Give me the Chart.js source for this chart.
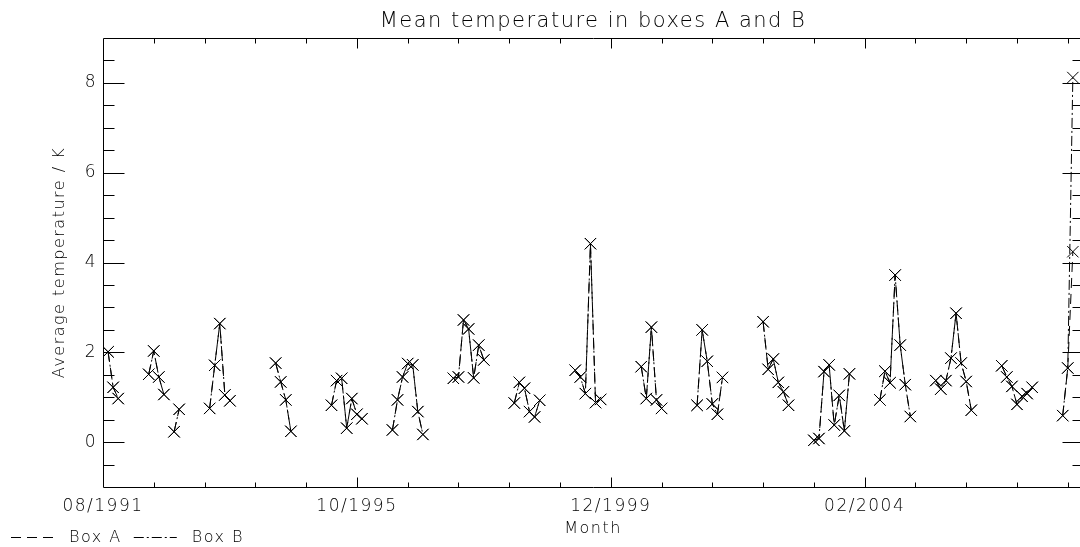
<!DOCTYPE html>
<html>
<head>
<meta charset="utf-8">
<title>Mean temperature in boxes A and B</title>
<script src="https://cdn.jsdelivr.net/npm/chart.js@4.4.1/dist/chart.umd.min.js"></script>
<style>
  html, body { margin: 0; padding: 0; background: #fff; overflow: hidden; }
  #wrap { width: 1092px; height: 547px; }
</style>
</head>
<body>
<div id="wrap"><canvas id="chart" width="1092" height="547"></canvas></div>
<script>
// DATA (month index counted from 08/1991)
const months = [
  1, 2, 3,
  9, 10, 11, 12, 14, 15,
  21, 22, 23, 24, 25,
  34, 35, 36, 37,
  45, 46, 47, 48, 49, 50, 51,
  57, 58, 59, 60, 61, 62, 63,
  69, 70, 71, 72, 73, 74, 75,
  81, 82, 83, 84, 85, 86,
  93, 94, 95, 96, 97, 98,
  106, 107, 108, 109, 110,
  117, 118, 119, 120, 121, 122,
  130, 131, 132, 133, 134, 135,
  140, 141, 142, 143, 144, 145, 146, 147,
  153, 154, 155, 156, 157, 158, 159,
  164, 165, 166, 167, 168, 169, 170, 171,
  177, 178, 179, 180, 181, 182, 183,
  189, 190, 191
];

const boxA = [
  2.01, 1.22, 0.97,
  1.51, 2.03, 1.45, 1.06, 0.23, 0.73,
  0.75, 1.71, 2.64, 1.05, 0.92,
  1.76, 1.34, 0.94, 0.24,
  0.82, 1.37, 1.42, 0.31, 0.97, 0.62, 0.52,
  0.27, 0.94, 1.45, 1.75, 1.72, 0.68, 0.17,
  1.42, 1.45, 2.72, 2.52, 1.43, 2.16, 1.83,
  0.87, 1.33, 1.20, 0.68, 0.56, 0.93,
  1.60, 1.45, 1.08, 4.42, 0.88, 0.95,
  1.68, 0.97, 2.56, 0.94, 0.75,
  0.82, 2.50, 1.80, 0.85, 0.62, 1.44,
  2.68, 1.62, 1.85, 1.33, 1.12, 0.82,
  0.04, 0.08, 1.57, 1.72, 0.38, 1.04, 0.25, 1.52,
  0.94, 1.58, 1.32, 3.72, 2.16, 1.28, 0.57,
  1.37, 1.18, 1.37, 1.87, 2.87, 1.76, 1.35, 0.71,
  1.70, 1.45, 1.24, 0.84, 1.02, 1.08, 1.22,
  0.59, 1.65, 4.24
];

const boxB = [
  2.01, 1.22, 0.97,
  1.51, 2.03, 1.45, 1.06, 0.23, 0.73,
  0.75, 1.71, 2.64, 1.05, 0.92,
  1.76, 1.34, 0.94, 0.24,
  0.82, 1.37, 1.42, 0.31, 0.97, 0.62, 0.52,
  0.27, 0.94, 1.45, 1.75, 1.72, 0.68, 0.17,
  1.42, 1.45, 2.72, 2.52, 1.43, 2.16, 1.83,
  0.87, 1.33, 1.20, 0.68, 0.56, 0.93,
  1.60, 1.45, 1.08, 4.42, 0.88, 0.95,
  1.68, 0.97, 2.56, 0.94, 0.75,
  0.82, 2.50, 1.80, 0.85, 0.62, 1.44,
  2.68, 1.62, 1.85, 1.33, 1.12, 0.82,
  0.04, 0.08, 1.57, 1.72, 0.38, 1.04, 0.25, 1.52,
  0.94, 1.58, 1.32, 3.72, 2.16, 1.28, 0.57,
  1.37, 1.18, 1.37, 1.87, 2.87, 1.76, 1.35, 0.71,
  1.70, 1.45, 1.24, 0.84, 1.02, 1.08, 1.22,
  0.59, 1.65, 8.12
];

const xTickMonths = [0, 50, 100, 150];
const xTickLabels = ["08/1991", "10/1995", "12/1999", "02/2004"];
const yTickValues = [0, 2, 4, 6, 8];

const FONT = "'DejaVu Sans', sans-serif";

function toPoints(values) {
  return months.map((m, i) => ({ x: m, y: values[i] }));
}

// letter spacing, to get closer to the wide plotter font
const spacing = {
  id: "spacing",
  beforeUpdate(chart) { chart.ctx.letterSpacing = "1.5px"; },
  beforeDraw(chart) { chart.ctx.letterSpacing = "1.5px"; }
};

// BOX + TICK MARKS ON ALL FOUR SIDES
const frame = {
  id: "frame",
  afterDraw(chart) {
    const { ctx, chartArea: a } = chart;
    const x = chart.scales.x, y = chart.scales.y;
    const L = Math.round(a.left) + 0.5, R = Math.round(a.right) + 0.5;
    const T = Math.round(a.top) + 0.5, B = Math.round(a.bottom) + 0.5;
    ctx.save();
    ctx.strokeStyle = "#000";
    ctx.lineWidth = 1;
    ctx.setLineDash([]);
    ctx.beginPath();
    ctx.rect(L, T, R - L, B - T);
    for (let m = 10; m < x.max; m += 10) {
      const px = Math.round(x.getPixelForValue(m)) + 0.5;
      const len = xTickMonths.includes(m) ? 10 : 5;
      ctx.moveTo(px, B); ctx.lineTo(px, B - len);
      ctx.moveTo(px, T); ctx.lineTo(px, T + len);
    }
    for (let v = y.min + 0.5; v < y.max; v += 0.5) {
      const py = Math.round(y.getPixelForValue(v)) + 0.5;
      const len = yTickValues.includes(v) ? 21 : 11;
      ctx.moveTo(L, py); ctx.lineTo(L + len, py);
      ctx.moveTo(R, py); ctx.lineTo(R - len, py);
    }
    ctx.stroke();
    ctx.restore();
  }
};

// LEGEND UNDER THE AXIS, LEFT
const legendLine = {
  id: "legendLine",
  afterDraw(chart) {
    const { ctx } = chart;
    const yy = 537.5;
    let xx = 11;
    ctx.save();
    ctx.font = "300 16px " + FONT;
    ctx.fillStyle = "#000";
    ctx.strokeStyle = "#000";
    ctx.lineWidth = 1;
    ctx.textBaseline = "middle";
    chart.data.datasets.forEach(ds => {
      ctx.setLineDash(ds.borderDash);
      ctx.beginPath();
      ctx.moveTo(xx, yy);
      ctx.lineTo(xx + 43, yy);
      ctx.stroke();
      xx += 58;
      ctx.fillText(ds.label, xx, yy);
      xx += ctx.measureText(ds.label).width + 12;
    });
    ctx.restore();
  }
};

Chart.defaults.color = "#000";
Chart.defaults.font.family = FONT;
Chart.defaults.font.weight = "300";

new Chart(document.getElementById("chart"), {
  type: "line",
  data: {
    datasets: [
      {
        label: "Box A",
        data: toPoints(boxA),
        borderColor: "#000",
        borderWidth: 1,
        borderDash: [10, 6],
        pointStyle: "crossRot",
        pointRadius: 8,
        pointBorderWidth: 1,
        pointBorderColor: "#000",
        spanGaps: 1.5,
        fill: false
      },
      {
        label: "Box B",
        data: toPoints(boxB),
        borderColor: "#000",
        borderWidth: 1,
        borderDash: [10, 3, 2, 3],
        pointStyle: "crossRot",
        pointRadius: 8,
        pointBorderWidth: 1,
        pointBorderColor: "#000",
        spanGaps: 1.5,
        fill: false
      }
    ]
  },
  options: {
    responsive: false,
    devicePixelRatio: 1,
    animation: false,
    events: [],
    layout: { padding: { left: 0, right: 5, top: 0, bottom: 0 } },
    plugins: {
      legend: { display: false },
      tooltip: { enabled: false },
      title: {
        display: true,
        text: "Mean temperature in boxes A and B",
        fullSize: false,
        color: "#000",
        font: { size: 21, weight: "300" },
        padding: { top: 9, bottom: 3.8 }
      }
    },
    scales: {
      x: {
        type: "linear",
        min: 0,
        max: 193,
        grid: { display: false, drawTicks: false },
        border: { display: false },
        afterBuildTicks(s) { s.ticks = xTickMonths.map(v => ({ value: v })); },
        afterFit(s) { s.height = 60; },
        ticks: {
          autoSkip: false,
          maxRotation: 0,
          padding: 9,
          font: { size: 17 },
          callback: v => xTickLabels[xTickMonths.indexOf(v)] || ""
        },
        title: {
          display: true,
          text: "Month",
          font: { size: 16 },
          padding: { top: 0, bottom: 8.4 }
        }
      },
      y: {
        type: "linear",
        min: -1,
        max: 9,
        grid: { display: false, drawTicks: false },
        border: { display: false },
        afterBuildTicks(s) { s.ticks = yTickValues.map(v => ({ value: v })); },
        afterFit(s) { s.width = 103; },
        ticks: {
          autoSkip: false,
          padding: 6,
          font: { size: 17 },
          callback: v => String(v)
        },
        title: {
          display: true,
          text: "Average temperature / K",
          font: { size: 16 },
          padding: { top: 50, bottom: 0 }
        }
      }
    }
  },
  plugins: [spacing, frame, legendLine]
});
</script>
</body>
</html>
